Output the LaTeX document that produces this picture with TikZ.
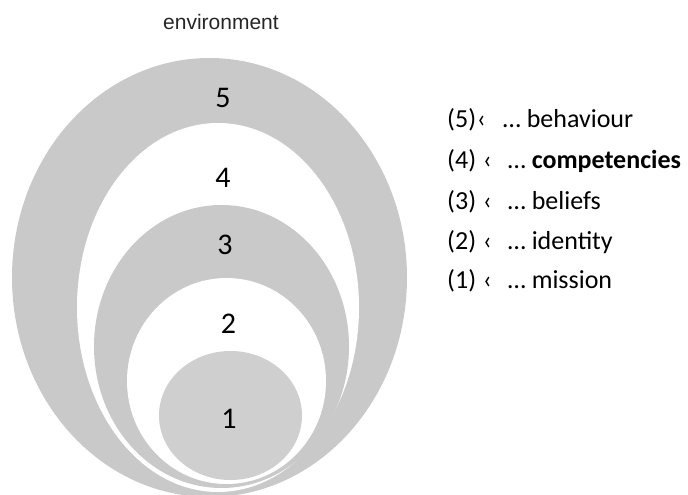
\documentclass[tikz,border=0pt]{standalone}
\usepackage{fontspec}
\setmainfont{Carlito}
\newfontfamily\arialfont{Liberation Sans}
\usetikzlibrary{shapes.geometric,positioning}
\definecolor{ringgray}{RGB}{201,201,201}
\definecolor{coregray}{RGB}{207,207,207}
\definecolor{envtext}{RGB}{38,38,38}

\begin{document}
\begin{tikzpicture}[x=1pt,y=-1pt,
  ring/.style={ellipse, draw=none, inner sep=0pt},
  level/.style={font=\fontsize{30}{32}\selectfont, inner sep=0pt},
  item/.style={font=\fontsize{26}{28}\selectfont, anchor=west, inner sep=0pt}]
\useasboundingbox (0,0) rectangle (688,495);
% nested layers, outer first
\node[ring, fill=ringgray, minimum width=395pt, minimum height=439pt] (E5) at (209.5,277.5) {};
\node[ring, fill=white, minimum width=282pt, minimum height=369pt] (E4) at (218,307.5) {};
\node[ring, fill=ringgray, minimum width=255pt, minimum height=283pt] (E3) at (221.5,346.5) {};
\node[ring, fill=white, minimum width=199pt, minimum height=206pt] (E2) at (226.5,381) {};
\node[ring, fill=coregray, minimum width=143pt, minimum height=129pt] (E1) at (230.5,415.5) {};
\node[level] (N5) at (223,98) {5};
\node[level] (N4) at (223,178) {4};
\node[level] (N3) at (225,245) {3};
\node[level] (N2) at (228.5,324) {2};
\node[level] (N1) at (229,419) {1};
\node[font=\arialfont\fontsize{21}{23}\selectfont, text=envtext] (env) at (221,22) {environment};
% legend
\node[item] (L5) at (447,120) {(5)\hspace{1pt}‹\hspace{17pt}… behaviour};
\node[item] (L4) at (447,161) {(4)\hspace{7pt}‹\hspace{16pt}… \textbf{competencies}};
\node[item] (L3) at (447,202) {(3)\hspace{7pt}‹\hspace{16pt}… beliefs};
\node[item] (L2) at (447,242) {(2)\hspace{7pt}‹\hspace{16pt}… identity};
\node[item] (L1) at (447,281) {(1)\hspace{7pt}‹\hspace{16pt}… mission};
\end{tikzpicture}
\end{document}
